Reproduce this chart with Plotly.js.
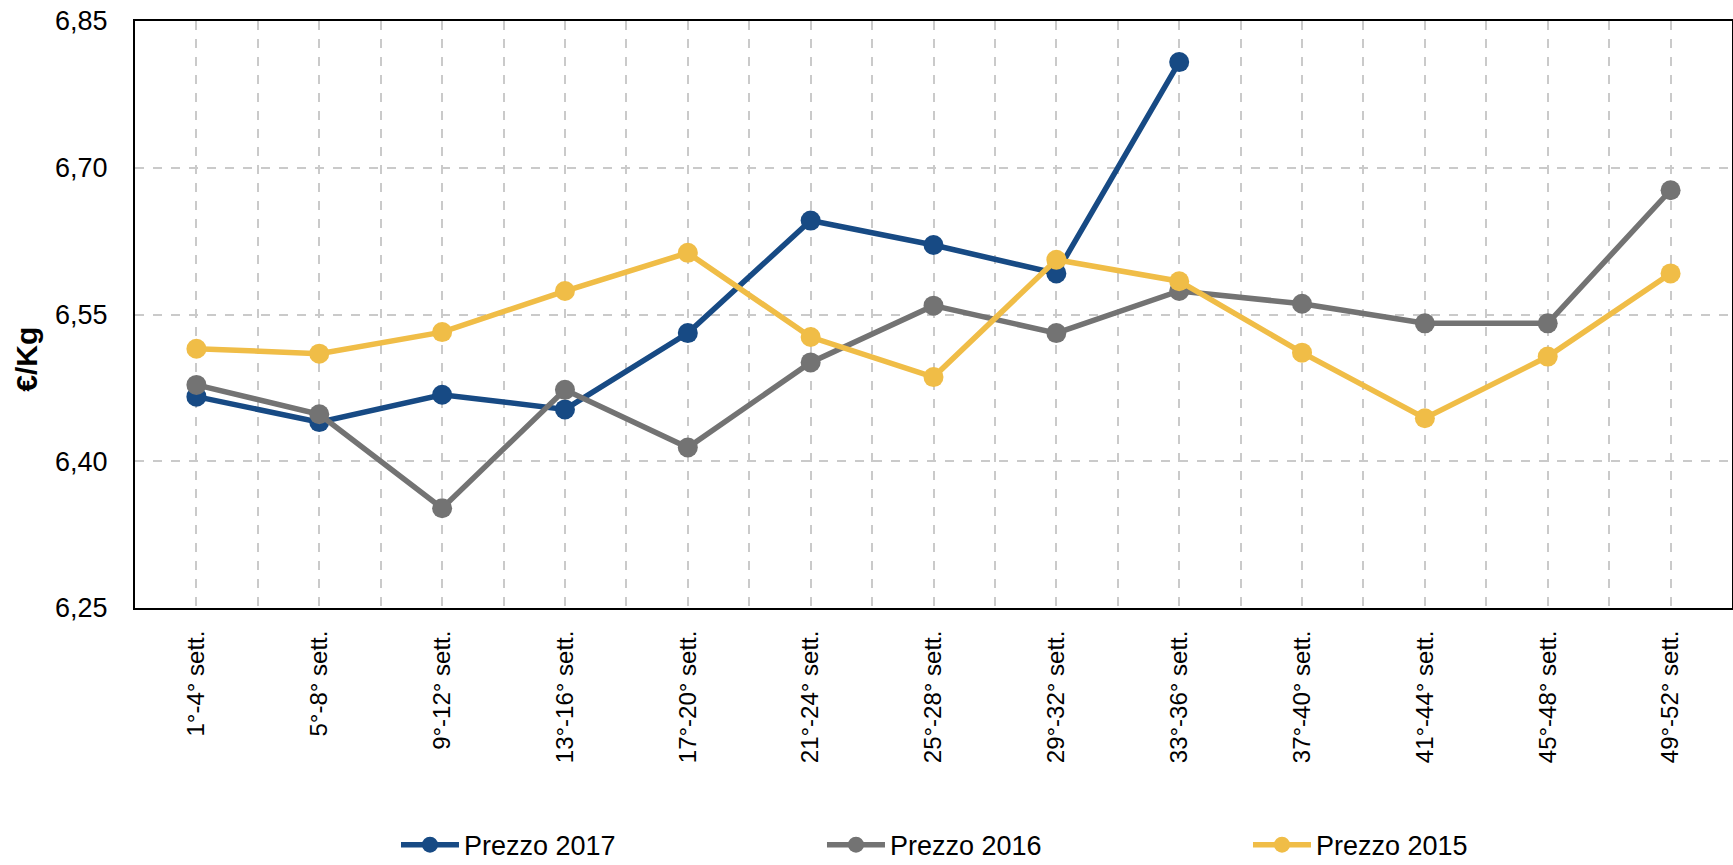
<!DOCTYPE html>
<html>
<head>
<meta charset="utf-8">
<script src="https://cdn.plot.ly/plotly-3.0.1.min.js"></script>
<style>
  html, body { margin: 0; padding: 0; background: #ffffff; }
  #chart { width: 1733px; height: 865px; }
</style>
</head>
<body>
<div id="chart"></div>
<script>
const categories = ["1°-4° sett.", "5°-8° sett.", "9°-12° sett.", "13°-16° sett.", "17°-20° sett.",
  "21°-24° sett.", "25°-28° sett.", "29°-32° sett.", "33°-36° sett.", "37°-40° sett.",
  "41°-44° sett.", "45°-48° sett.", "49°-52° sett."];

const prezzo2017 = [6.466, 6.440, 6.468, 6.453, 6.531, 6.646, 6.621, 6.592, 6.808];
const prezzo2016 = [6.478, 6.448, 6.352, 6.473, 6.414, 6.501, 6.559, 6.531, 6.574, 6.561, 6.541, 6.541, 6.677];
const prezzo2015 = [6.515, 6.510, 6.532, 6.574, 6.613, 6.527, 6.486, 6.606, 6.584, 6.511, 6.444, 6.507, 6.592];

const seriesNames = ["Prezzo 2017", "Prezzo 2016", "Prezzo 2015"];
const yTicks = [6.25, 6.40, 6.55, 6.70, 6.85];
const yTitle = "€/Kg";

const colors = ["#174A84", "#737373", "#F0BD47"];
const FONT = "Liberation Sans, Arial, sans-serif";

function mk(values, i) {
  return {
    type: "scatter",
    mode: "lines+markers",
    name: seriesNames[i],
    x: categories.slice(0, values.length),
    y: values,
    line: { color: colors[i], width: 5.5 },
    marker: { color: colors[i], size: 20 },
    cliponaxis: false
  };
}

const data = [mk(prezzo2017, 0), mk(prezzo2016, 1), mk(prezzo2015, 2)];

// invisible trace so the half-step grid axis is drawn
data.unshift({
  type: "scatter", x: [], y: [], xaxis: "x2", yaxis: "y",
  showlegend: false, hoverinfo: "skip"
});

const gridStyle = { showgrid: true, gridcolor: "#CACACA", griddash: "dash", gridwidth: 2 };

const layout = {
  width: 1733,
  height: 865,
  paper_bgcolor: "#ffffff",
  plot_bgcolor: "#ffffff",
  separators: ",.",
  font: { family: FONT, color: "#000000", size: 26 },
  margin: { l: 135, r: 1, t: 21, b: 257, autoexpand: false },
  showlegend: true,
  legend: {
    orientation: "h",
    xref: "container",
    yref: "container",
    x: 0.2285,
    xanchor: "left",
    y: 0.023,
    yanchor: "middle",
    entrywidth: 353,
    entrywidthmode: "pixels",
    itemwidth: 58,
    font: { family: FONT, size: 27, color: "#000000" },
    bgcolor: "rgba(0,0,0,0)"
  },
  xaxis: Object.assign({
    type: "category",
    categoryorder: "array",
    categoryarray: categories,
    range: [-0.5, categories.length - 0.5],
    tickangle: -90,
    tickfont: { family: FONT, size: 24, color: "#000000" },
    ticks: "",
    ticklabelstandoff: 11,
    showline: true,
    linecolor: "#000000",
    linewidth: 2,
    mirror: true,
    zeroline: false,
    fixedrange: true
  }, gridStyle),
  xaxis2: Object.assign({
    type: "linear",
    overlaying: "x",
    range: [-0.5, categories.length - 0.5],
    tick0: 0.5,
    dtick: 1,
    showticklabels: false,
    ticks: "",
    showline: false,
    zeroline: false,
    fixedrange: true
  }, gridStyle),
  yaxis: Object.assign({
    range: [6.25, 6.85],
    tickvals: yTicks,
    tickformat: ".2f",
    tickfont: { family: FONT, size: 27, color: "#000000" },
    ticks: "",
    ticklabelstandoff: 20,
    showline: true,
    linecolor: "#000000",
    linewidth: 2,
    mirror: true,
    zeroline: false,
    fixedrange: true
  }, gridStyle),
  annotations: [{
    text: "<b>" + yTitle + "</b>",
    xref: "paper", yref: "paper",
    x: -0.0676, y: 0.423,
    xanchor: "center", yanchor: "middle",
    textangle: -90,
    showarrow: false,
    font: { family: FONT, size: 30, color: "#000000" }
  }]
};

Plotly.newPlot("chart", data, layout, { displayModeBar: false, staticPlot: true });
</script>
</body>
</html>
